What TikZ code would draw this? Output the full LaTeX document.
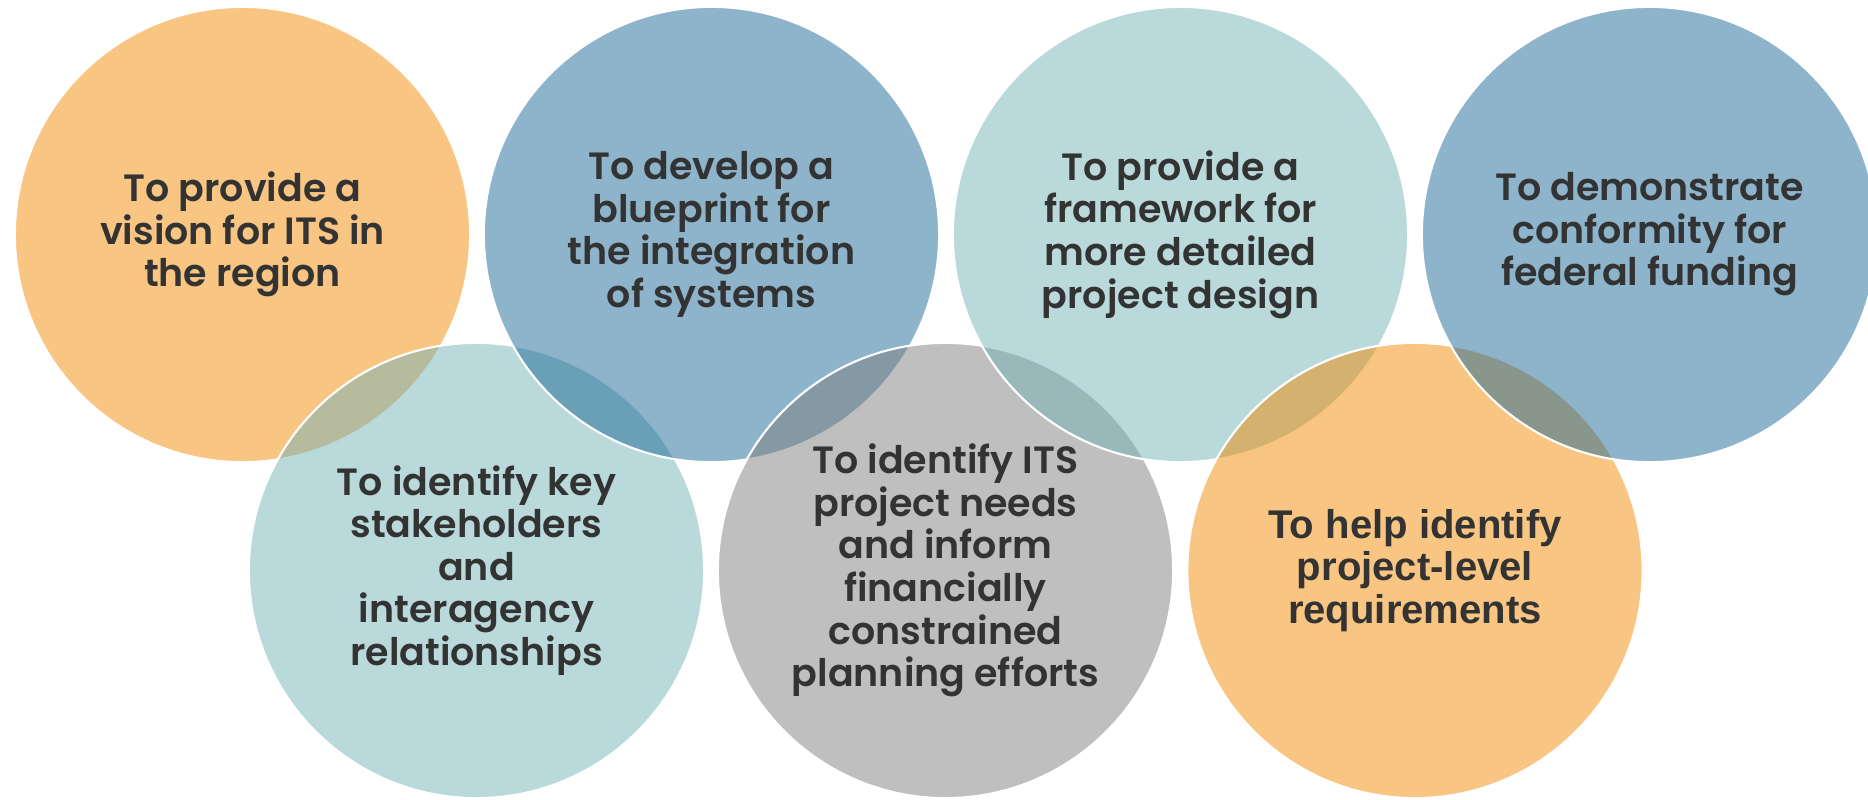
\documentclass[tikz,border=0pt]{standalone}
\usepackage{fontspec}
\setmainfont{Poppins}[BoldFont={Poppins SemiBold}]
\newfontfamily\arialfont{Liberation Sans}
\usetikzlibrary{shapes.geometric}
\definecolor{orangefill}{RGB}{241,139,5}
\definecolor{bluefill}{RGB}{27,105,151}
\definecolor{tealfill}{RGB}{115,179,183}
\definecolor{greyfill}{RGB}{127,127,127}
\definecolor{textgrey}{RGB}{51,51,51}
\tikzstyle{goal} = [circle, minimum size=4.55cm, inner sep=0pt, draw=white, line width=0.6pt, fill opacity=0.5, text opacity=1, align=center, text=textgrey, font=\bfseries\fontsize{10.8}{12.1}\selectfont]
\tikzstyle{goalarial} = [goal, font=\arialfont\bfseries\fontsize{11.4}{12.1}\selectfont]

\begin{document}
\begin{tikzpicture}[x=0.01cm,y=-0.01cm]
    \useasboundingbox (0,0) rectangle (1868,799);
    \clip (0,0) rectangle (1868,799);
    % drawn in zigzag order so each circle overlaps the one before
    \node at (242.5,234.5) [goal, fill=orangefill] (vision) {To provide a\\vision for ITS in\\the region};
    \node at (476.5,570.5) [goal, fill=tealfill] (stakeholders) {To identify key\\stakeholders\\and\\interagency\\relationships};
    \node at (711.5,234.5) [goal, fill=bluefill] (blueprint) {To develop a\\blueprint for\\the integration\\of systems};
    \node at (945.5,570.5) [goal, fill=greyfill] (needs) {To identify ITS\\project needs\\and inform\\financially\\constrained\\planning efforts};
    \node at (1180.5,234.5) [goal, fill=tealfill] (framework) {To provide a\\framework for\\more detailed\\project design};
    \node at (1415,570.5) [goalarial, fill=orangefill] (requirements) {To help identify\\project-level\\requirements};
    \node at (1649.5,234.5) [goal, fill=bluefill] (funding) {To demonstrate\\conformity for\\federal funding};
\end{tikzpicture}
\end{document}
